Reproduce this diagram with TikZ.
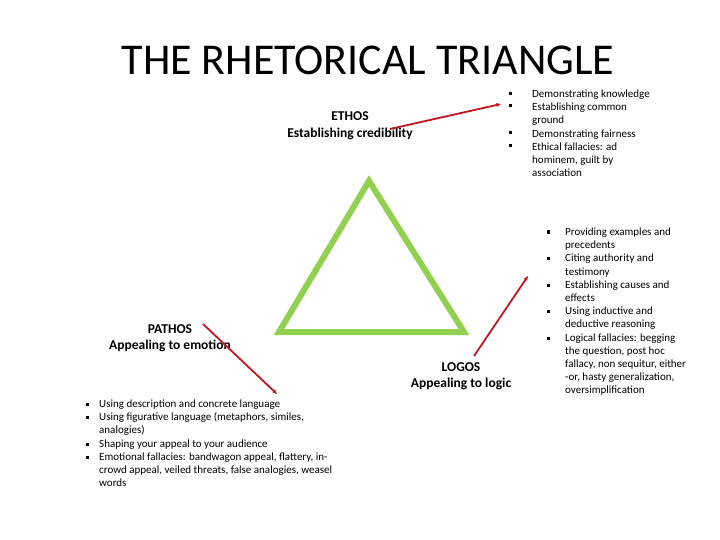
\documentclass[tikz,border=0pt]{standalone}
\usepackage{fontspec}
\setmainfont{Carlito}
\usetikzlibrary{arrows.meta}
\definecolor{trigreen}{RGB}{146,208,80}
\definecolor{arrred}{RGB}{196,22,32}
\tikzset{
  title/.style={font=\fontsize{44}{52}\selectfont, inner sep=0pt},
  lab/.style={font=\bfseries\fontsize{13.5}{16.5}\selectfont, align=center, inner sep=0pt, anchor=base},
  itm/.style={font=\fontsize{11}{13.2}\selectfont, align=left, inner sep=0pt, anchor=base west},
  bul/.style={fill=black, inner sep=0pt, minimum size=3pt},
  redarr/.style={draw=arrred, line width=1.8pt, -{Stealth[length=5pt,width=4pt]}},
  tri/.style={draw=trigreen, line width=6pt}
}
\begin{document}
\begin{tikzpicture}[x=1pt,y=-1pt]
\useasboundingbox (0,0) rectangle (720,540);
\node[title] (t) at (368,60) {THE RHETORICAL TRIANGLE};

% triangle
\coordinate (ta) at (369,181);
\coordinate (tl) at (279,332);
\coordinate (tr) at (464,332);
\draw[tri] (ta) -- (tl) -- (tr) -- cycle;

% labels (anchor at baseline of last line)
\node[lab] (ethos) at (350,137.5) {ETHOS\\Establishing credibility};
\node[lab] (pathos) at (170,349.5) {PATHOS\\Appealing to emotion};
\node[lab] (logos) at (461,387.5) {LOGOS\\Appealing to logic};

% arrows
\coordinate (ea) at (390,129);
\coordinate (eb) at (501,104);
\coordinate (pa) at (203,324);
\coordinate (pb) at (277,394);
\coordinate (la) at (474,356);
\coordinate (lb) at (528,276);
\draw[redarr] (ea) -- (eb);
\draw[redarr] (pa) -- (pb);
\draw[redarr] (la) -- (lb);

% ethos list (anchors at baseline of last line)
\node[bul] (eb1) at (510,94) {};
\node[bul] (eb2) at (510,106) {};
\node[bul] (eb3) at (510,133) {};
\node[bul] (eb4) at (510,146) {};
\node[itm] (e1) at (532,97.5) {Demonstrating knowledge};
\node[itm] (e2) at (532,123.9) {Establishing common\\ground};
\node[itm] (e3) at (532,137.1) {Demonstrating fairness};
\node[itm] (e4) at (532,176.7) {Ethical fallacies: ad\\hominem, guilt by\\association};

% logos list
\node[bul] (lb1) at (548,232) {};
\node[bul] (lb2) at (548,258) {};
\node[bul] (lb3) at (548,285) {};
\node[bul] (lb4) at (548,311) {};
\node[bul] (lb5) at (548,338) {};
\node[itm] (l1) at (565,248.7) {Providing examples and\\precedents};
\node[itm] (l2) at (565,275.1) {Citing authority and\\testimony};
\node[itm] (l3) at (565,301.5) {Establishing causes and\\effects};
\node[itm] (l4) at (565,327.9) {Using inductive and\\deductive reasoning};
\node[itm] (l5) at (565,393.9) {Logical fallacies: begging\\the question, post hoc\\fallacy, non sequitur, either\\-or, hasty generalization,\\oversimplification};

% pathos list
\node[bul] (pb1) at (87,404) {};
\node[bul] (pb2) at (87,417) {};
\node[bul] (pb3) at (87,444) {};
\node[bul] (pb4) at (87,457) {};
\node[itm] (p1) at (99,407.5) {Using description and concrete language};
\node[itm] (p2) at (99,433.9) {Using figurative language (metaphors, similes,\\analogies)};
\node[itm] (p3) at (99,447.1) {Shaping your appeal to your audience};
\node[itm] (p4) at (99,486.7) {Emotional fallacies: bandwagon appeal, flattery, in-\\crowd appeal, veiled threats, false analogies, weasel\\words};
\end{tikzpicture}
\end{document}
